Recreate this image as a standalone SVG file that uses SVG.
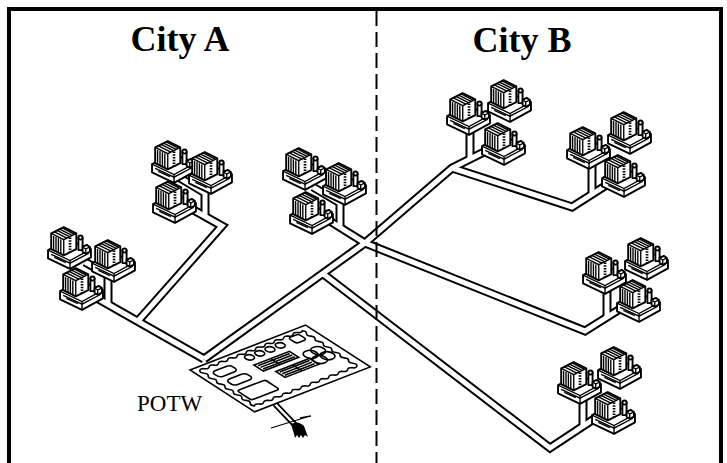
<svg xmlns="http://www.w3.org/2000/svg" width="727" height="463" viewBox="0 0 727 463">
<style>
.k{fill:#fff;stroke:#000;stroke-width:1.8;stroke-linejoin:round}
.l{fill:none;stroke:#000;stroke-width:1.3}
.po{fill:none;stroke:#000;stroke-width:9;stroke-linejoin:miter;stroke-miterlimit:3}
.pi{fill:none;stroke:#fff;stroke-width:5;stroke-linejoin:miter;stroke-miterlimit:3}
.ttl{font-family:"Liberation Serif","Times New Roman",serif;font-weight:bold;font-size:36px;fill:#000}
.lbl{font-family:"Liberation Serif","Times New Roman",serif;font-size:23px;fill:#000}
.pl{fill:none;stroke:#000;stroke-width:1.6;vector-effect:non-scaling-stroke}
.plw{fill:#fff;stroke:#000;stroke-width:1.6;vector-effect:non-scaling-stroke}
</style>
<defs>
<symbol id="bldg" viewBox="0 0 43 42">
<path class="k" stroke-width="2.6" d="M1,23 L20,13 L42,22 L42,30 L22,41 L1,31 Z"/>
<path class="l" stroke-width="1.8" d="M1,23 L22,33 L42,22 M22,33 V41"/>
<path class="l" d="M4,27 L22,35.5 L40,26"/>
<path class="k" d="M4,22 V7 L16,1 L28,7 V22 L16,28 Z"/>
<path class="l" stroke-width="1.8" d="M4,7 L16,13 L28,7 M16,13 V28"/>
<path class="l" stroke-width="1.4" d="M6.3,9.5 V23 M8.6,10.6 V24.2 M10.9,11.8 V25.3 M13.2,12.9 V26.5"/>
<path class="l" stroke-width="1.3" d="M7,5.5 L19,11.5 M9.5,4.2 L21.5,10.2 M12,3 L24,9 M14.5,1.7 L26,7.7"/>
<path fill="none" stroke="#000" stroke-width="2.6" stroke-dasharray="1.5 1.1" d="M22,11 V25"/>
<rect class="k" x="30" y="11" width="4" height="12"/>
<circle class="k" cx="32" cy="11" r="2"/>
<path class="k" d="M34,20 L38,18 L41,20 L41,24.5 L37,26.5 L34,24.5 Z"/>
<path class="l" d="M34,20 L37,22 L41,20 M37,22 V26.5"/>
<path class="l" stroke-width="1.5" d="M7,30 L18,35"/>
</symbol>
<path id="p1" d="M95,297 L204,359"/>
<path id="p2" d="M190,208 L222,226 L138,321"/>
<path id="p3" d="M204,359 L365,243 L452,168 L484,152"/>
<path id="p4" d="M325,218 L365,243 L585,331 L620,309"/>
<path id="p5" d="M452,168 L572,207 L605,186"/>
<path id="p6" d="M322,273 L550,448 L600,415"/>
<path id="s1" d="M85,262 L108,275 V303"/>
<path id="s2" d="M175,175 L205,193 V216"/>
<path id="s3" d="M313,187 L340,203 V228"/>
<path id="s4" d="M470,160 V128"/>
<path id="s5" d="M592,194 V163"/>
<path id="s6" d="M607,317 V283"/>
<path id="s7" d="M583,426 V396"/>
</defs>
<rect width="727" height="463" fill="#fff"/>

<g id="connectors">
<g class="po">
<use href="#p1"/><use href="#p2"/><use href="#p3"/><use href="#p4"/><use href="#p5"/><use href="#p6"/>
<use href="#s1"/><use href="#s2"/><use href="#s3"/><use href="#s4"/><use href="#s5"/><use href="#s6"/><use href="#s7"/>
</g>
<g class="pi">
<use href="#p1"/><use href="#p2"/><use href="#p3"/><use href="#p4"/><use href="#p5"/><use href="#p6"/>
<use href="#s1"/><use href="#s2"/><use href="#s3"/><use href="#s4"/><use href="#s5"/><use href="#s6"/><use href="#s7"/>
</g>
</g>

<g id="frame">
<path d="M9,463 V9 H721 V463" fill="none" stroke="#000" stroke-width="4"/>
<line x1="376.5" y1="11" x2="376.5" y2="463" stroke="#000" stroke-width="2" stroke-dasharray="15 6"/>
</g>

<g id="cityA-west">
<use href="#bldg" x="47" y="226" width="45" height="44"/>
<use href="#bldg" x="91" y="239" width="45" height="44"/>
<use href="#bldg" x="59" y="267" width="45" height="44"/>
</g>
<g id="cityA-north">
<use href="#bldg" x="151" y="140" width="45" height="44"/>
<use href="#bldg" x="188" y="151" width="45" height="44"/>
<use href="#bldg" x="152" y="180" width="45" height="44"/>
</g>
<g id="cityA-east">
<use href="#bldg" x="282" y="147" width="45" height="44"/>
<use href="#bldg" x="322" y="162" width="45" height="44"/>
<use href="#bldg" x="289" y="191" width="45" height="44"/>
</g>
<g id="cityB-north">
<use href="#bldg" x="446" y="92" width="45" height="44"/>
<use href="#bldg" x="487" y="79" width="45" height="44"/>
<use href="#bldg" x="481" y="122" width="45" height="44"/>
</g>
<g id="cityB-northeast">
<use href="#bldg" x="566" y="126" width="45" height="44"/>
<use href="#bldg" x="607" y="111" width="45" height="44"/>
<use href="#bldg" x="601" y="154" width="45" height="44"/>
</g>
<g id="cityB-east">
<use href="#bldg" x="582" y="251" width="45" height="44"/>
<use href="#bldg" x="624" y="237" width="45" height="44"/>
<use href="#bldg" x="616" y="279" width="45" height="44"/>
</g>
<g id="cityB-south">
<use href="#bldg" x="557" y="361" width="45" height="44"/>
<use href="#bldg" x="597" y="346" width="45" height="44"/>
<use href="#bldg" x="591" y="391" width="45" height="44"/>
</g>

<g id="potw">
<path d="M275,404 L296,426" stroke="#000" stroke-width="6" fill="none"/>
<path d="M275,404 L296,426" stroke="#fff" stroke-width="2.5" fill="none"/>
<path d="M291,424 q7,-4 13,2 l4,11 l-3,-2 l-2,3 l-2,-3 l-2,3 l-2,-3 l-2,3 l-1,-4 z" fill="#000"/>
<path d="M271,428 L307,417 M300,418 L311,416" stroke="#000" stroke-width="1.3" fill="none"/>
<g transform="matrix(0.932,-0.362,0.84,0.543,190,370)">
<rect class="plw" x="0" y="0" width="124" height="77"/>
<path class="pl" d="M6,5 q2.5,-2.5 5,0 t5,0 t5,0 t5,0 t5,0 t5,0 t5,0 t5,0 t5,0 t5,0 t5,0 t5,0 t5,0 t5,0 t5,0 t5,0 t5,0 t5,0 t5,0 t5,0 t5,0 t5,0 q2.5,2.5 0,5 t0,5 t0,5 t0,5 t0,5 t0,5 t0,5 t0,5 t0,5 t0,5 t0,5 t0,5 t0,5 q-2.5,2.5 -5,0 t-5,0 t-5,0 t-5,0 t-5,0 t-5,0 t-5,0 t-5,0 t-5,0 t-5,0 t-5,0 t-5,0 t-5,0 t-5,0 t-5,0 t-5,0 t-5,0 t-5,0 t-5,0 t-5,0 t-5,0 t-5,0 q-2.5,-2.5 0,-5 t0,-5 t0,-5 t0,-5 t0,-5 t0,-5 t0,-5 t0,-5 t0,-5 t0,-5 t0,-5 t0,-5 t0,-5"/>
<circle class="plw" cx="53" cy="12" r="4"/>
<circle class="plw" cx="64" cy="12" r="4"/>
<circle class="plw" cx="75" cy="12" r="4"/>
<circle class="plw" cx="86" cy="12" r="4"/>
<rect class="plw" x="99" y="7" width="11" height="10" rx="2.5"/>
<rect class="plw" x="12" y="12" width="20" height="10" rx="4"/>
<rect class="plw" x="13" y="28" width="21" height="10" rx="4"/>
<rect class="plw" x="10" y="45" width="30" height="17" rx="2"/>
<rect class="plw" x="48" y="23" width="38" height="11"/>
<path class="pl" d="M50,25.5 H84 M50,28.5 H84 M50,31.5 H84 M66,23 V34"/>
<rect class="plw" x="56" y="40" width="36" height="11"/>
<path class="pl" d="M58,42.5 H90 M58,45.5 H90 M58,48.5 H90 M74,40 V51"/>
<circle class="pl" cx="97" cy="36" r="6"/>
<circle class="pl" cx="106" cy="35" r="6"/>
<circle class="pl" cx="98" cy="46" r="6"/>
<circle class="pl" cx="107" cy="45" r="6"/>
</g>
</g>

<g id="labels">
<text class="ttl" x="180" y="51" text-anchor="middle">City A</text>
<text class="ttl" x="522" y="52" text-anchor="middle">City B</text>
<text class="lbl" x="137" y="411">POTW</text>
</g>
</svg>
